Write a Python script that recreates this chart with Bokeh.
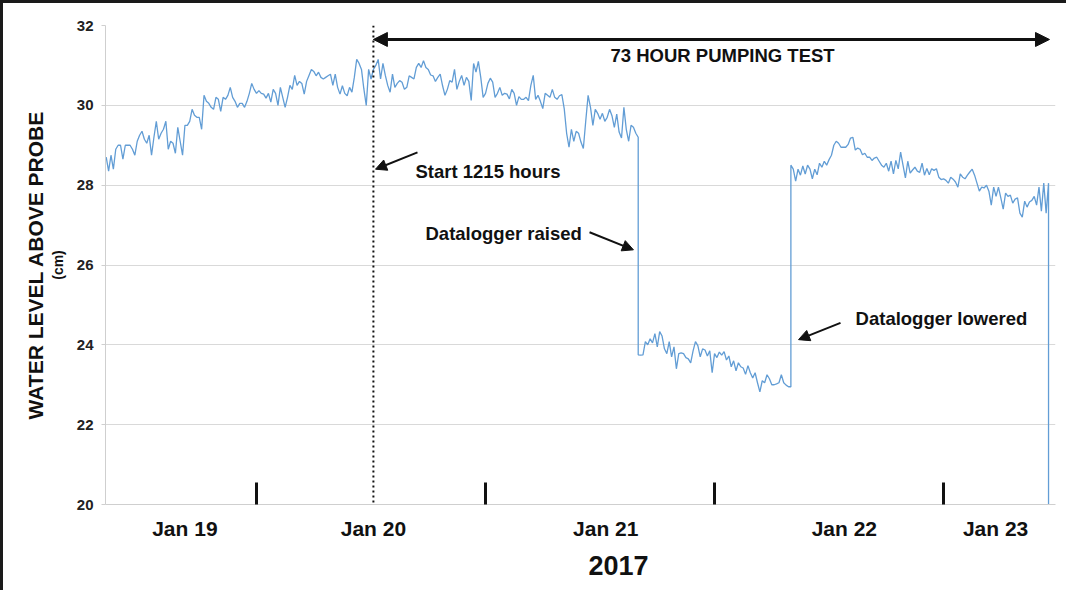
from bokeh.plotting import figure
from bokeh.models import (Range1d, FixedTicker, Span, Arrow, NormalHead, Label, Title)
from bokeh.embed import file_html
from bokeh.resources import INLINE

# Time axis: hours since 19 Jan 2017 00:00; one reading every quarter hour
step_h = 0.25

# Before the datalogger was raised (19 Jan 08:15 -> 21 Jan 16:00)
start_before = 8.25
level_before = [
    # 08:15 - 12:00 Jan 19
    28.7, 28.35, 28.75, 28.4, 28.9, 29.0, 29.0, 28.65, 29.0, 29.0,
    29.0, 28.9, 28.75, 29.1, 29.25, 29.35,
    29.15, 29.05, 29.25, 28.75, 29.2, 29.6, 29.15, 29.3, 29.4, 29.6,
    28.9, 29.1, 29.05, 28.8, 29.45, 29.1, 28.75, 29.5, 29.5, 29.6,
    29.9, 29.75, 29.7, 29.7, 29.4, 30.25, 30.1, 30.05, 29.95, 29.9,
    30.2, 30.15, 29.85, 30.2, 30.15, 30.25, 30.45, 30.2, 30.1, 29.95,
    30.05, 30.05, 29.95, 30.1, 30.3, 30.55, 30.4, 30.3, 30.37, 30.3,
    30.28, 30.18,
    # 25:15 - 42:00
    30.3, 30.08, 30.4, 30.3, 30.0, 30.45, 30.2, 29.95, 30.2, 30.5,
    30.4, 30.75, 30.5, 30.6, 30.55, 30.28, 30.6, 30.75, 30.9, 30.85,
    30.74, 30.83, 30.7, 30.66, 30.7, 30.74, 30.78, 30.5, 30.78, 30.45,
    30.28, 30.49, 30.3, 30.24, 30.45, 30.33, 30.7, 31.15, 31.05, 30.9,
    30.41, 30.0, 30.9, 30.66, 30.9, 31.0, 31.15, 30.66, 31.05, 30.75,
    30.5, 30.33, 30.78, 30.45, 30.55, 30.62, 30.58, 30.4, 30.45, 30.74,
    30.7, 30.66, 30.95, 31.05, 30.95, 31.12, 30.95, 30.9,
    # 42:15 - 58:45
    30.76, 30.74, 30.6, 30.7, 30.78, 30.49, 30.25, 30.4, 30.62, 30.58,
    30.9, 30.4, 30.6, 30.75, 30.5, 30.7, 30.6, 30.12, 31.05, 30.83,
    31.1, 30.7, 30.2, 30.3, 30.55, 30.68, 30.58, 30.2, 30.3, 30.45,
    30.25, 30.3, 30.28, 30.16, 30.4, 30.3, 30.0, 30.22, 30.15, 30.15,
    30.2, 30.12, 30.5, 30.75, 30.15, 30.25, 30.1, 29.92, 30.3, 30.25,
    30.2, 30.4, 30.2, 30.15, 30.24, 30.27, 29.91, 29.3, 28.95, 29.4,
    29.1, 29.35, 29.3, 29.08, 28.92, 29.6, 30.25,
    # 59:00 - 64:00
    29.95, 29.5, 29.9, 29.8, 29.65, 29.8, 29.6, 29.7, 29.9, 29.74,
    29.45, 29.78, 29.33, 29.18, 29.95, 29.4, 29.1, 29.5, 29.45, 29.3,
    29.2,
]

# Datalogger raised (21 Jan 16:00 -> 22 Jan 08:00)
start_raised = 64.0
level_raised = [
    23.75, 23.74, 23.75, 24.08, 24.0, 24.15, 24.05, 24.28, 23.95, 24.33,
    24.22, 23.9, 23.78, 24.08, 23.7, 23.95, 23.4, 23.78, 23.8, 23.78,
    23.68, 23.65, 23.55, 23.85, 24.08, 23.98, 23.7, 23.9, 23.87, 23.72,
    23.85, 23.3, 23.78, 23.68, 23.82, 23.74, 23.83, 23.62, 23.72, 23.45,
    23.6, 23.35, 23.55, 23.45, 23.42, 23.26, 23.48, 23.3, 23.17, 23.3,
    23.05, 22.82, 23.1, 23.05, 23.25, 23.15, 23.0, 23.0, 23.02, 23.05,
    23.25, 23.05, 22.99, 22.95, 22.95,
]

# Datalogger lowered (22 Jan 08:00 -> 23 Jan 11:00)
start_lowered = 80.0
level_lowered = [
    28.5, 28.4, 28.1, 28.4, 28.25, 28.48, 28.28, 28.5, 28.4, 28.16,
    28.4, 28.26, 28.55, 28.45, 28.6, 28.5, 28.64, 28.75, 29.0, 29.1,
    29.05, 28.95, 28.95, 28.95, 29.02, 29.18, 29.2, 28.88, 28.93, 28.9,
    28.76, 28.8, 28.7, 28.7, 28.62, 28.68, 28.7, 28.6, 28.5, 28.45,
    28.55, 28.35, 28.6, 28.28, 28.62, 28.41, 28.83, 28.5, 28.18, 28.6,
    28.3, 28.38, 28.45, 28.35, 28.32, 28.55, 28.25, 28.42, 28.26, 28.41,
    28.37, 28.41, 28.2, 28.14, 28.16, 28.12, 28.05,
    28.2, 28.15, 28.08, 27.95, 28.28, 28.2, 28.16, 28.25, 28.33, 28.4,
    28.25, 28.05, 27.85, 27.95, 27.93, 28.0, 27.85, 27.5, 27.95, 27.72,
    27.95, 27.68, 27.4, 27.8, 27.72, 27.75, 27.55, 27.65, 27.68, 27.3,
    27.2, 27.6, 27.45, 27.58, 27.62, 27.72, 27.5, 27.95, 27.35, 28.05,
    27.3, 28.05,
]

# Probe pulled out at the end of the record
start_removed = 107.0
level_removed = [20.0]

pump_start_h = 36.25          # Jan 20, 12:15
pump_arrow_end_h = 107.1

date_label_pos = [16.8, 36.25, 60.6, 85.6, 101.45]
date_labels = ["Jan  19", "Jan 20", "Jan 21", "Jan 22", "Jan 23"]
midnights = [24, 48, 72, 96]
y_ticks = [20, 22, 24, 26, 28, 30, 32]


def hours(start, vals):
    return [start + i * step_h for i in range(len(vals))]


x = (hours(start_before, level_before) + hours(start_raised, level_raised)
     + hours(start_lowered, level_lowered) + hours(start_removed, level_removed))
y = level_before + level_raised + level_lowered + level_removed

FONT = "Liberation Sans"
INK = "#111111"

p = figure(width=1066, height=590, output_backend="svg", toolbar_location=None,
           x_range=Range1d(8.175, 107.73), y_range=Range1d(20, 32),
           min_border_left=102, min_border_right=14, min_border_top=22,
           min_border_bottom=89)
p.styles = {"border-left": "3px solid #1a1a1a", "border-top": "3px solid #1a1a1a"}
p.outline_line_color = None
p.background_fill_color = "white"
p.border_fill_color = "white"

p.line(x, y, line_color="#629dd5", line_width=1.3)

# axes
p.xgrid.visible = False
p.ygrid.grid_line_color = "#d9d9d9"
p.ygrid.ticker = FixedTicker(ticks=y_ticks)

yax = p.yaxis[0]
yax.ticker = FixedTicker(ticks=y_ticks)
yax.axis_line_color = "#cfcfcf"
yax.major_tick_line_color = "#cfcfcf"
yax.major_tick_in = 0
yax.major_tick_out = 4
yax.minor_tick_line_color = None
yax.major_label_text_font = FONT
yax.major_label_text_font_style = "bold"
yax.major_label_text_font_size = "15px"
yax.major_label_text_color = "#222222"
yax.major_label_standoff = 8
yax.axis_label = "(cm)"
yax.axis_label_text_font = FONT
yax.axis_label_text_font_style = "bold"
yax.axis_label_text_font_size = "14px"
yax.axis_label_text_color = INK
yax.axis_label_standoff = 8

xax = p.xaxis[0]
xax.ticker = FixedTicker(ticks=date_label_pos, minor_ticks=midnights)
xax.major_label_overrides = {v: t for v, t in zip(date_label_pos, date_labels)}
xax.axis_line_color = "#cfcfcf"
xax.major_tick_line_color = None
xax.major_tick_in = 0
xax.major_tick_out = 0
xax.minor_tick_line_color = INK
xax.minor_tick_line_width = 3
xax.minor_tick_in = 22
xax.minor_tick_out = 0
xax.major_label_text_font = FONT
xax.major_label_text_font_style = "bold"
xax.major_label_text_font_size = "21px"
xax.major_label_text_color = INK
xax.major_label_standoff = 12

p.add_layout(Title(text="WATER LEVEL ABOVE PROBE", align="center", text_font=FONT,
                   text_font_size="21px", text_font_style="bold",
                   text_color=INK, standoff=0), "left")
p.add_layout(Title(text="2017", align="left", offset=483, text_font=FONT,
                   text_font_size="27px", text_font_style="bold",
                   text_color=INK, standoff=22), "below")

# annotations
p.add_layout(Span(location=pump_start_h, dimension="height", line_color=INK,
                  line_width=2, line_dash="2 3"))

p.add_layout(Arrow(start=NormalHead(size=14, fill_color=INK, line_color=INK),
                   end=NormalHead(size=14, fill_color=INK, line_color=INK),
                   x_start=pump_start_h, y_start=31.65, x_end=pump_arrow_end_h, y_end=31.65,
                   line_width=3, line_color=INK))


def note(xv, yv, text, align="left", size="18px"):
    p.add_layout(Label(x=xv, y=yv, text=text, text_font=FONT, text_font_size=size,
                       text_font_style="bold", text_color=INK,
                       text_align=align, text_baseline="middle"))


def pointer(x0, y0, x1, y1):
    p.add_layout(Arrow(end=NormalHead(size=11, fill_color=INK, line_color=INK),
                       x_start=x0, y_start=y0, x_end=x1, y_end=y1,
                       line_width=2, line_color=INK))


note(72.84, 31.25, "73 HOUR PUMPING TEST", align="center", size="18.5px")
note(40.66, 28.33, "Start 1215 hours", size="18.5px")
pointer(40.87, 28.82, 36.47, 28.4)
note(41.71, 26.8, "Datalogger raised", size="18.5px")
pointer(58.9, 26.82, 63.5, 26.38)
note(86.78, 24.67, "Datalogger lowered", size="18.5px")
pointer(85.2, 24.55, 80.8, 24.13)

open("out.html", "w").write(file_html(p, INLINE))
